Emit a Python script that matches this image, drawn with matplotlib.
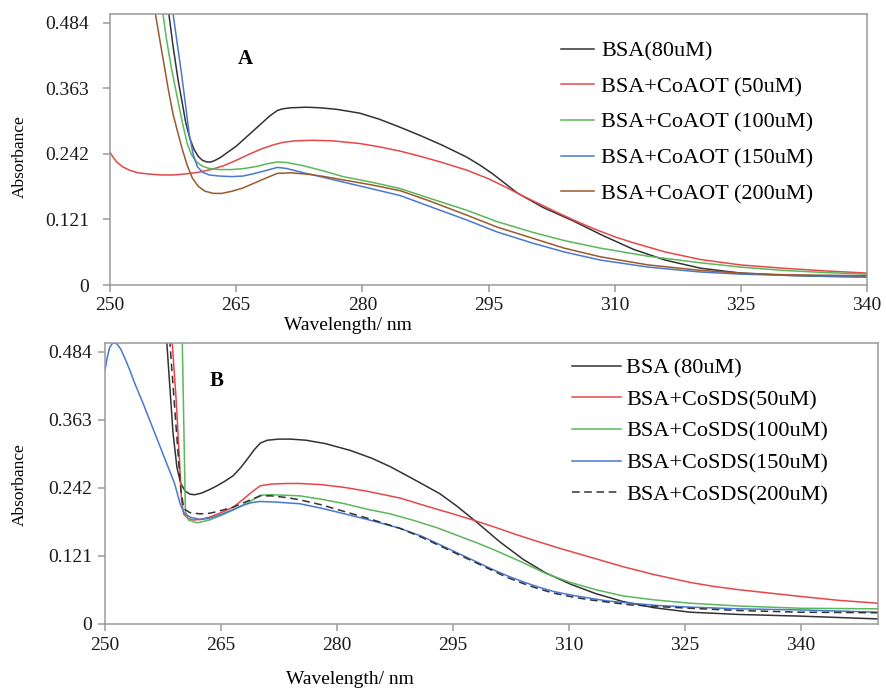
import matplotlib
matplotlib.use('Agg')
import matplotlib.pyplot as plt

plt.rcParams['font.family'] = ['Liberation Serif', 'DejaVu Serif']

W, H = 887, 688

# ---- panel A: BSA + CoAOT ----
a_bsa_w = [256.3, 257.0, 257.5, 258.1, 258.6, 259.0, 259.5, 260.0, 260.5, 261.0, 261.5, 262.0, 262.5, 263.2, 264.0,
           265.0, 266.0, 267.0, 268.0, 269.0, 269.9, 270.5, 271.5, 273.4, 275.0, 277.0, 279.7, 282.0, 284.5, 287.0,
           289.5, 292.4, 294.0, 295.5, 297.0, 298.4, 301.5, 305.1, 308.5, 312.2, 316.0, 320.2, 325.0, 330.0, 335.0,
           340.0]
a_bsa_a = [0.56, 0.50, 0.44, 0.378, 0.335, 0.30, 0.27, 0.25, 0.237, 0.23, 0.227, 0.227, 0.23, 0.236, 0.245,
           0.256, 0.27, 0.284, 0.298, 0.312, 0.322, 0.325, 0.327, 0.328, 0.327, 0.324, 0.317, 0.306, 0.291, 0.275,
           0.258, 0.236, 0.221, 0.205, 0.187, 0.17, 0.143, 0.118, 0.092, 0.066, 0.046, 0.031, 0.022, 0.018, 0.016,
           0.015]

a_50_w = [250.0, 250.4, 250.8, 251.5, 252.3, 253.3, 254.5, 256.0, 257.5, 259.0, 260.5, 262.0, 263.5, 265.0, 266.5,
          268.0, 269.3, 270.5, 272.0, 274.0, 276.5, 279.7, 282.0, 284.5, 287.0, 289.5, 292.4, 295.0, 297.0, 299.0,
          301.0, 303.0, 305.1, 307.5, 310.0, 312.2, 316.0, 320.2, 325.0, 330.0, 335.0, 340.0]
a_50_a = [0.245, 0.235, 0.227, 0.218, 0.212, 0.207, 0.205, 0.203, 0.203, 0.205, 0.208, 0.213, 0.22, 0.23, 0.241,
          0.251, 0.258, 0.263, 0.266, 0.267, 0.266, 0.261, 0.255, 0.247, 0.237, 0.226, 0.212, 0.196, 0.181, 0.165,
          0.15, 0.135, 0.12, 0.104, 0.089, 0.078, 0.061, 0.047, 0.037, 0.031, 0.026, 0.022]

a_100_w = [256.0, 256.3, 256.7, 257.3, 258.0, 258.6, 259.2, 259.7, 260.3, 261.0, 261.8, 263.0, 264.5, 266.0, 267.5,
           268.8, 269.9, 271.0, 273.0, 275.5, 277.7, 281.0, 284.5, 288.0, 292.4, 296.0, 300.3, 304.0, 308.3, 314.0,
           320.2, 325.0, 330.0, 335.0, 340.0]
a_100_a = [0.55, 0.50, 0.455, 0.40, 0.346, 0.30, 0.26, 0.24, 0.227, 0.219, 0.215, 0.213, 0.213, 0.215, 0.219,
           0.224, 0.227, 0.226, 0.22, 0.21, 0.20, 0.19, 0.178, 0.16, 0.138, 0.117, 0.097, 0.082, 0.068, 0.053,
           0.041, 0.033, 0.027, 0.023, 0.02]

a_150_w = [257.0, 257.5, 258.0, 258.5, 259.0, 259.4, 259.9, 260.4, 261.0, 261.8, 263.0, 264.5, 265.8, 267.0, 268.5,
           269.9, 271.0, 273.0, 275.0, 277.7, 281.0, 284.5, 288.0, 292.4, 296.0, 300.3, 304.0, 308.3, 314.0, 320.2,
           325.0, 330.0, 335.0, 340.0]
a_150_a = [0.56, 0.50, 0.445, 0.39, 0.33, 0.28, 0.24, 0.218, 0.208, 0.203, 0.201, 0.20, 0.201, 0.205, 0.211,
           0.217, 0.215, 0.207, 0.20, 0.19, 0.178, 0.165, 0.145, 0.12, 0.098, 0.077, 0.061, 0.046, 0.033, 0.024,
           0.02, 0.018, 0.016, 0.015]

a_200_w = [255.0, 255.4, 256.0, 256.5, 257.0, 257.5, 258.0, 258.6, 259.2, 259.8, 260.5, 261.3, 262.3, 263.3, 264.5,
           265.8, 267.0, 268.5, 269.9, 271.5, 273.8, 275.5, 277.7, 281.0, 284.5, 288.0, 292.4, 296.0, 300.3, 304.0,
           308.3, 314.0, 320.2, 325.0, 330.0, 335.0, 340.0]
a_200_a = [0.55, 0.50, 0.445, 0.40, 0.355, 0.315, 0.285, 0.25, 0.22, 0.197, 0.182, 0.173, 0.169, 0.169, 0.173,
           0.179, 0.187, 0.197, 0.206, 0.207, 0.204, 0.20, 0.194, 0.185, 0.174, 0.155, 0.129, 0.107, 0.086, 0.068,
           0.052, 0.037, 0.027, 0.022, 0.019, 0.018, 0.017]

a_labels = ['BSA(80uM)', 'BSA+CoAOT (50uM)', 'BSA+CoAOT (100uM)', 'BSA+CoAOT (150uM)', 'BSA+CoAOT (200uM)']

# ---- panel B: BSA + CoSDS ----
b_bsa_w = [257.5, 258.0, 258.4, 258.8, 259.3, 259.8, 260.4, 261.0, 261.6, 262.5, 263.5, 264.5, 265.5, 266.6, 267.6,
           268.5, 269.3, 270.1, 271.0, 272.5, 274.0, 276.0, 278.5, 281.7, 284.5, 286.9, 290.0, 293.3, 295.5, 298.1,
           301.0, 304.1, 307.0, 310.2, 313.5, 317.0, 321.0, 325.7, 332.0, 340.0, 350.0]
b_bsa_a = [0.55, 0.50, 0.42, 0.34, 0.279, 0.25, 0.236, 0.231, 0.23, 0.233, 0.239, 0.246, 0.254, 0.264, 0.279,
           0.295, 0.31, 0.322, 0.327, 0.329, 0.329, 0.327, 0.321, 0.309, 0.295, 0.28, 0.257, 0.232, 0.21, 0.181,
           0.147, 0.115, 0.091, 0.071, 0.054, 0.04, 0.029, 0.021, 0.017, 0.014, 0.009]

b_50_w = [258.3, 258.7, 259.2, 259.6, 259.9, 260.2, 260.7, 261.4, 262.3, 263.5, 265.0, 266.6, 267.8, 269.0, 270.1,
          271.5, 273.5, 275.2, 278.0, 281.0, 284.0, 288.2, 292.0, 295.0, 297.6, 300.5, 303.0, 305.7, 308.5, 311.0,
          313.0, 317.0, 321.0, 325.7, 328.7, 332.0, 336.0, 340.0, 345.0, 350.0]
b_50_a = [0.55, 0.50, 0.40, 0.30, 0.22, 0.195, 0.188, 0.185, 0.186, 0.19, 0.198, 0.208, 0.221, 0.235, 0.246,
          0.249, 0.25, 0.25, 0.248, 0.243, 0.236, 0.224, 0.208, 0.196, 0.185, 0.172, 0.16, 0.148, 0.136, 0.126,
          0.118, 0.102, 0.088, 0.074, 0.067, 0.061, 0.055, 0.049, 0.042, 0.037]

b_100_w = [259.8, 260.0, 260.2, 260.4, 260.8, 261.9, 263.5, 265.0, 266.6, 268.5, 270.1, 271.5, 273.5, 275.2, 278.0,
           281.0, 284.0, 286.9, 290.0, 293.0, 295.5, 298.0, 300.5, 304.1, 307.0, 310.2, 313.5, 317.0, 321.0, 325.7,
           332.0, 340.0, 350.0]
b_100_a = [0.55, 0.50, 0.35, 0.20, 0.185, 0.18, 0.185, 0.193, 0.203, 0.216, 0.229, 0.23, 0.229, 0.228, 0.222,
           0.214, 0.204, 0.196, 0.184, 0.171, 0.158, 0.145, 0.131, 0.109, 0.09, 0.074, 0.061, 0.05, 0.043, 0.037,
           0.032, 0.028, 0.027]

b_150_w = [250.0, 250.3, 250.6, 251.0, 251.5, 252.0, 252.6, 253.2, 253.8, 255.0, 256.0, 257.0, 258.0, 259.0, 259.7,
           260.2, 261.0, 262.3, 263.5, 265.0, 266.5, 268.0, 269.0, 270.0, 272.0, 275.2, 278.0, 281.0, 284.5, 288.2,
           291.0, 293.5, 295.5, 298.0, 300.0, 302.0, 304.1, 306.0, 308.0, 310.5, 312.7, 315.0, 318.0, 321.5, 325.7,
           332.0, 340.0, 350.0]
b_150_a = [0.452, 0.475, 0.492, 0.50, 0.499, 0.49, 0.472, 0.452, 0.43, 0.39, 0.355, 0.32, 0.285, 0.25, 0.215,
           0.198, 0.19, 0.186, 0.188, 0.195, 0.203, 0.212, 0.216, 0.218, 0.217, 0.214, 0.206, 0.196, 0.184, 0.17,
           0.156, 0.14, 0.127, 0.111, 0.098, 0.086, 0.075, 0.066, 0.058, 0.051, 0.046, 0.041, 0.037, 0.033, 0.03,
           0.027, 0.025, 0.021]

b_200_w = [258.0, 258.4, 259.2, 259.8, 260.2, 261.0, 262.3, 263.5, 264.5, 266.6, 268.5, 270.1, 271.5, 273.5, 275.2,
           278.0, 281.0, 284.5, 288.2, 291.0, 293.5, 295.5, 298.0, 300.0, 302.0, 304.1, 306.0, 308.0, 310.5, 312.7,
           315.0, 318.0, 321.5, 325.7, 332.0, 340.0, 350.0]
b_200_a = [0.55, 0.50, 0.35, 0.24, 0.205, 0.198, 0.196, 0.197, 0.20, 0.208, 0.219, 0.228, 0.228, 0.225, 0.221,
           0.212, 0.20, 0.186, 0.17, 0.154, 0.138, 0.125, 0.109, 0.096, 0.083, 0.072, 0.063, 0.055, 0.048, 0.043,
           0.039, 0.034, 0.031, 0.028, 0.024, 0.021, 0.02]

b_labels = ['BSA (80uM)', 'BSA+CoSDS(50uM)', 'BSA+CoSDS(100uM)', 'BSA+CoSDS(150uM)', 'BSA+CoSDS(200uM)']

y_ticks = [0, 0.121, 0.242, 0.363, 0.484]
y_tick_labels = ['0', '0.121', '0.242', '0.363', '0.484']

c_black = '#333333'
c_red = '#e8474a'
c_green = '#5bb75b'
c_blue = '#4a78d0'
c_brown = '#9a5a2c'
spine_col = '#9a9a9a'


def px_rect(left, right, top, bottom):
    # pixel box -> figure fraction
    return [left / W, 1 - bottom / H, (right - left) / W, (bottom - top) / H]


def style_axes(ax, xmax, ypad):
    ax.set_ylim(0, 0.5)
    ax.set_xlim(250, xmax)
    ax.set_xticks(range(250, 341, 15))
    ax.set_yticks(y_ticks)
    ax.set_yticklabels(y_tick_labels)
    for sp in ax.spines.values():
        sp.set_color(spine_col)
        sp.set_linewidth(1.1)
    ax.tick_params(axis='both', direction='out', length=5, width=1.1, color=spine_col,
                   labelsize=14, labelcolor='#1a1a1a')
    ax.tick_params(axis='y', pad=ypad)
    ax.tick_params(axis='x', pad=4)


fig = plt.figure(figsize=(W / 100, H / 100), dpi=100)

# top panel
ax1 = fig.add_axes(px_rect(110, 867, 14, 285))
lw = 1.1
ax1.plot(a_bsa_w, a_bsa_a, color=c_black, lw=lw, label=a_labels[0])
ax1.plot(a_50_w, a_50_a, color=c_red, lw=lw, label=a_labels[1])
ax1.plot(a_100_w, a_100_a, color=c_green, lw=lw, label=a_labels[2])
ax1.plot(a_150_w, a_150_a, color=c_blue, lw=lw, label=a_labels[3])
ax1.plot(a_200_w, a_200_a, color=c_brown, lw=lw, label=a_labels[4])
style_axes(ax1, 340, 10)
ax1.legend(loc='upper left', bbox_to_anchor=(561 / W, 1 - 41 / H), bbox_transform=fig.transFigure,
           frameon=False, fontsize=16, handlelength=1.5, handletextpad=0.3, labelspacing=0.68,
           borderpad=0, borderaxespad=0)
fig.text(245 / W, 1 - 59 / H, 'A', fontsize=15, fontweight='bold', ha='center', va='center')
fig.text(20 / W, 1 - 157 / H, 'Absorbance', fontsize=12.5, rotation=90, ha='center', va='center')
fig.text(348 / W, 1 - 325 / H, 'Wavelength/ nm', fontsize=14, ha='center', va='center')

# bottom panel
ax2 = fig.add_axes(px_rect(105, 878, 343, 624))
ax2.plot(b_bsa_w, b_bsa_a, color=c_black, lw=lw, label=b_labels[0])
ax2.plot(b_50_w, b_50_a, color=c_red, lw=lw, label=b_labels[1])
ax2.plot(b_100_w, b_100_a, color=c_green, lw=lw, label=b_labels[2])
ax2.plot(b_150_w, b_150_a, color=c_blue, lw=lw, label=b_labels[3])
ax2.plot(b_200_w, b_200_a, color=c_black, lw=lw, ls=(0, (5, 3)), label=b_labels[4])
style_axes(ax2, 350, 4)
ax2.legend(loc='upper left', bbox_to_anchor=(572 / W, 1 - 358 / H), bbox_transform=fig.transFigure,
           frameon=False, fontsize=16, handlelength=2.2, handletextpad=0.25, labelspacing=0.5,
           borderpad=0, borderaxespad=0)
fig.text(217 / W, 1 - 381 / H, 'B', fontsize=15, fontweight='bold', ha='center', va='center')
fig.text(20 / W, 1 - 485 / H, 'Absorbance', fontsize=12.5, rotation=90, ha='center', va='center')
fig.text(350 / W, 1 - 680 / H, 'Wavelength/ nm', fontsize=14, ha='center', va='center')

fig.savefig('out.png', dpi=100)
